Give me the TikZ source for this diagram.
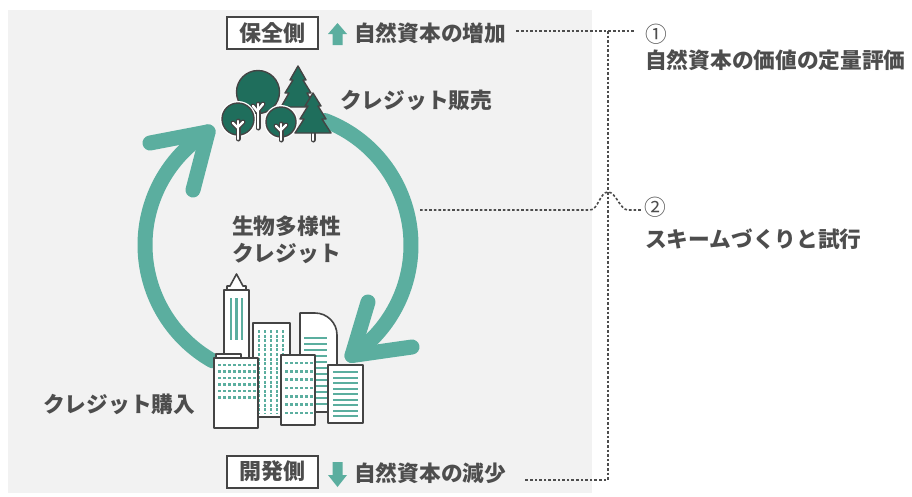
\documentclass[tikz,border=0pt]{standalone}
\usepackage{fontspec}
\newfontfamily\jp{Noto Sans CJK JP}
\definecolor{ink}{HTML}{4D4D4D}
\definecolor{line}{HTML}{444444}
\definecolor{teal}{HTML}{5BAE9F}
\definecolor{forest}{HTML}{1F6E5C}
\definecolor{panel}{HTML}{F2F2F2}
\begin{document}
\begin{tikzpicture}[x=1pt,y=-1pt,
  txt/.style={font=\jp\bfseries\fontsize{21.7}{27}\selectfont, text=ink, inner sep=0pt, anchor=west},
  numtxt/.style={font=\jp\fontsize{21.7}{25}\selectfont, text=ink, inner sep=0pt, anchor=west},
  tagbox/.style={draw=line, line width=2pt, fill=white, minimum width=91pt, minimum height=32pt, inner sep=0pt,
    font=\jp\bfseries\fontsize{22}{25}\selectfont, text=ink},
  leader/.style={draw=ink, line width=1.6pt, dash pattern=on 2.6pt off 2pt},
  cycle/.style={draw=teal, line width=15pt, line cap=round, line join=round},
  treefill/.style={fill=forest, draw=line, line width=1.4pt, line join=round},
  bldg/.style={fill=white, draw=line, line width=1.6pt, line join=round},
  dots/.style={draw=teal, line width=2.6pt, dash pattern=on 2.6pt off 2.4pt},
  stripes/.style={draw=teal, line width=2pt},
  trunk/.style={draw=line, line width=5pt, line cap=round},
  trunkin/.style={draw=white, line width=2.4pt, line cap=round}]

% page and grey panel
\useasboundingbox (0,0) rectangle (912,496);
\fill[white] (0,0) rectangle (912,496);
\fill[panel] (8,10) rectangle (592,493);

% the credit cycle: two curved arrows
\draw[cycle] plot[domain=-69.4:56.2, samples=80] ({278+133*cos(\x)},{245+133*sin(\x)});
\coordinate (tipR) at ({278+133*cos(56.2)},{245+133*sin(56.2)});
\draw[cycle] (368,302) -- (tipR) -- (412,347);
\draw[cycle] plot[domain=119.5:238.3, samples=80] ({278+133*cos(\x)},{245+133*sin(\x)});
\coordinate (tipL) at ({278+133*cos(238.3)},{245+133*sin(238.3)});
\draw[cycle] (150,143) -- (tipL) -- (193,190);
\coordinate (arcR) at (420,210);

% forest
\draw[treefill] (258,92) circle (21.5);
\draw[treefill] (298,66) -- (306,80) -- (303,80) -- (311,93) -- (307,93) -- (315,107)
  -- (281,107) -- (289,93) -- (285,93) -- (293,80) -- (290,80) -- cycle;
\draw[trunk] (258,104) -- (258,128); \draw[trunk] (258,112) -- (253,106); \draw[trunk] (258,110) -- (263,104);
\draw[trunkin] (258,104) -- (258,128); \draw[trunkin] (258,112) -- (253,106); \draw[trunkin] (258,110) -- (263,104);
\draw[treefill, draw=white, line width=2pt] (238,119) circle (17);
\draw[treefill] (238,119) circle (16);
\draw[treefill, draw=white, line width=2pt] (281,122) circle (16);
\draw[treefill] (281,122) circle (15);
\foreach \tx/\ty/\tb in {238/121/139, 281/124/140}{
  \draw[trunk] (\tx,\ty) -- (\tx,\tb); \draw[trunk] (\tx,\ty+7) -- (\tx-5,\ty+2); \draw[trunk] (\tx,\ty+6) -- (\tx+5,\ty+1);
  \draw[trunkin] (\tx,\ty) -- (\tx,\tb); \draw[trunkin] (\tx,\ty+7) -- (\tx-5,\ty+2); \draw[trunkin] (\tx,\ty+6) -- (\tx+5,\ty+1);
}
\draw[trunk] (313,128) -- (313,140); \draw[trunkin] (313,128) -- (313,140);
\draw[treefill] (313,93) -- (321,106) -- (318,106) -- (326,119) -- (322,119) -- (331,133)
  -- (295,133) -- (304,119) -- (300,119) -- (308,106) -- (305,106) -- cycle;

% city
\draw[bldg] (227,290) -- (227,286) -- (230,286) -- (236.5,274) -- (243,286) -- (246,286) -- (246,290) -- cycle;
\draw[bldg] (224,290) rectangle (249,362);
\foreach \sx in {231,236.5,242} \draw[stripes, line width=2.4pt] (\sx,298) -- (\sx,340);
\draw[bldg] (253,323) rectangle (290,417);
\foreach \sx in {259,265,271,277,283} \draw[dots, dash pattern=on 3pt off 1.6pt] (\sx,330) -- (\sx,413);
\draw[bldg] (300,412) -- (300,313) -- (315,313) arc[start angle=-90, end angle=0, radius=22] -- (337,412) -- cycle;
\foreach \sy in {338,344,...,408} \draw[stripes] (304,\sy) -- (327,\sy);
\draw[bldg] (216,354) rectangle (241,358);
\draw[bldg] (214,358) rectangle (258,428);
\foreach \sy in {365,371.5,...,398} \draw[dots] (218,\sy) -- (256,\sy);
\draw[bldg] (281,355) rectangle (315,425);
\foreach \sy in {363,371.3,...,415} \draw[dots] (285,\sy) -- (313,\sy);
\draw[bldg] (328,365) rectangle (363,423);
\foreach \sy in {372,377.5,...,419} \draw[stripes] (333,\sy) -- (358,\sy);

% labels round the cycle
\node[txt] (sell) at (340,100) {クレジット販売};
\node[txt] (buy) at (43,404) {クレジット購入};
\node[txt, align=left] (bio) at (232,240) {生物多様性\\クレジット};

% conservation side
\node[tagbox] (cons) at (272.5,33) {保全側};
\fill[teal] (337.5,23) -- (347,34) -- (342.5,34) -- (342.5,45) -- (332.5,45) -- (332.5,34) -- (328,34) -- cycle;
\node[txt] (inc) at (354,33) {自然資本の増加};

% development side
\node[tagbox] (dev) at (272.5,471.5) {開発側};
\fill[teal] (337.5,487) -- (347,475) -- (342.5,475) -- (342.5,462) -- (332.5,462) -- (332.5,475) -- (328,475) -- cycle;
\node[txt] (dec) at (354,473) {自然資本の減少};

% right-hand notes
\node[numtxt] (n1) at (645,34) {①};
\node[txt] (t1) at (645,60) {自然資本の価値の定量評価};
\node[numtxt] (n2) at (644,207) {②};
\node[txt] (t2) at (645,239) {スキームづくりと試行};

% dotted leaders
\coordinate (jTop) at (608,31);
\coordinate (jBot) at (608,480);
\draw[leader] ([xshift=10pt]inc.east |- jTop) -- (jTop) -- ([xshift=-10pt]n1.west |- jTop);
\draw[leader] (jTop) -- (jBot) -- ([xshift=18pt]dec.east |- jBot);
\draw[leader] (arcR) -- (590,210) .. controls (598,210) and (600,192) .. (608,192)
  .. controls (616,192) and (620,210) .. (628,210) -- ([xshift=-2pt]n2.west |- arcR);
\end{tikzpicture}
\end{document}
